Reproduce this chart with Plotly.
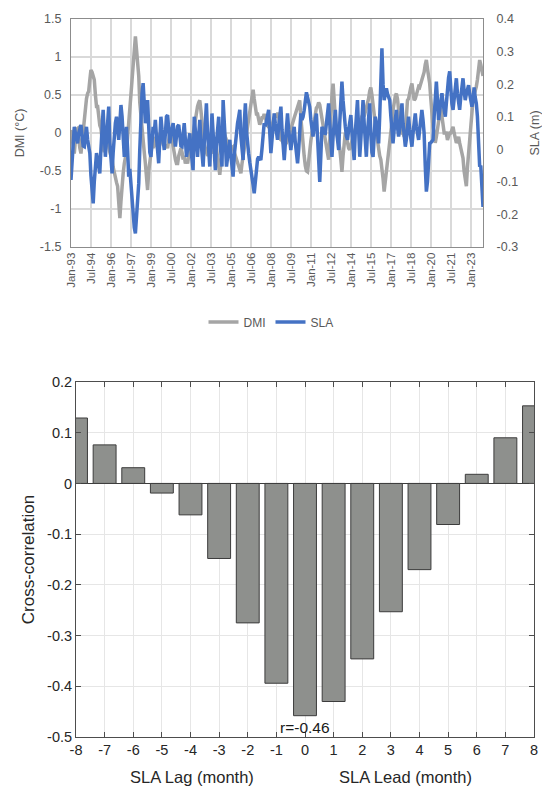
import plotly.graph_objects as go
import pandas as pd

# ---------------- data ----------------
months = pd.date_range("1993-01-01", periods=372, freq="MS")

dmi = [
    0.04, -0.1, -0.2, -0.27, -0.1, 0.05, 0.06, -0.1, -0.2, -0.27, -0.1, 0.05,          # 1993
    0.21, 0.3, 0.45, 0.52, 0.55, 0.7, 0.83, 0.8, 0.72, 0.7, 0.5, 0.35,                 # 1994
    0.35, 0.2, 0.1, 0.06, -0.1, -0.2, -0.25, -0.15, -0.05, -0.1, -0.2, -0.25,          # 1995
    -0.3, -0.35, -0.45, -0.53, -0.6, -0.65, -0.7, -0.9, -1.12, -0.9, -0.6, -0.53,      # 1996
    -0.4, -0.3, -0.25, -0.05, 0.1, 0.29, 0.5, 0.7, 0.87, 1.0, 1.27, 1.1,               # 1997
    0.9, 0.75, 0.4, 0.2, 0.06, -0.1, -0.25, -0.4, -0.6, -0.75, -0.5, -0.35,            # 1998
    -0.25, -0.15, -0.2, -0.1, -0.05, -0.15, -0.2, -0.1, 0.0, -0.05, -0.1, -0.15,       # 1999
    -0.15, -0.2, -0.15, -0.2, -0.1, 0.0, 0.0, -0.1, -0.2, -0.3, -0.35, -0.4,           # 2000
    -0.4, -0.3, -0.25, -0.2, -0.25, -0.35, -0.3, -0.4, -0.35, -0.4, -0.3, -0.25,       # 2001
    -0.2, -0.1, 0.0, 0.1, 0.21, 0.3, 0.35, 0.4, 0.43, 0.3, 0.1, -0.09,                 # 2002
    -0.15, -0.2, -0.25, -0.3, -0.28, -0.22, -0.27, -0.2, -0.27, -0.15, -0.09, -0.2,    # 2003
    -0.35, -0.45, -0.55, -0.4, -0.25, -0.1, 0.0, -0.05, -0.1, -0.15, -0.2, -0.22,      # 2004
    -0.2, -0.18, -0.18, -0.25, -0.3, -0.35, -0.4, -0.45, -0.5, -0.53, -0.4, -0.3,      # 2005
    -0.2, -0.14, -0.05, 0.05, 0.15, 0.29, 0.4, 0.5, 0.57, 0.45, 0.35, 0.25,            # 2006
    0.25, 0.15, 0.11, 0.15, 0.2, 0.2, 0.25, 0.2, 0.15, 0.1, 0.07, 0.1,                 # 2007
    0.07, 0.1, 0.15, 0.2, 0.25, 0.2, 0.25, 0.25, 0.1, -0.09, -0.1, -0.13,              # 2008
    -0.13, -0.15, -0.13, -0.1, -0.05, 0.0, 0.04, 0.1, 0.15, 0.2, 0.25, 0.3,            # 2009
    0.35, 0.4, 0.43, 0.2, 0.0, -0.15, -0.3, -0.43, -0.5, -0.51, -0.35, -0.2,           # 2010
    -0.1, 0.0, 0.0, 0.15, 0.25, 0.33, 0.35, 0.4, 0.37, 0.3, 0.2, 0.1,                  # 2011
    0.0, -0.1, -0.2, -0.3, -0.35, -0.1, 0.3, 0.5, 0.65, 0.4, 0.1, 0.0,                 # 2012
    -0.05, -0.13, -0.2, -0.35, -0.51, -0.3, -0.1, 0.0, -0.05, -0.15, -0.2, -0.22,      # 2013
    -0.15, -0.09, -0.05, 0.0, 0.05, 0.09, 0.1, 0.12, 0.15, 0.18, 0.21, 0.25,           # 2014
    0.22, 0.28, 0.3, 0.35, 0.45, 0.55, 0.6, 0.5, 0.35, 0.21, 0.1, 0.0,                 # 2015
    -0.1, -0.22, -0.3, -0.35, -0.44, -0.6, -0.77, -0.65, -0.5, -0.35, -0.2, -0.1,      # 2016
    0.0, 0.15, 0.3, 0.43, 0.48, 0.52, 0.45, 0.3, 0.2, 0.1, 0.0, 0.0,                   # 2017
    -0.05, 0.0, 0.2, 0.43, 0.45, 0.55, 0.6, 0.65, 0.55, 0.43, 0.45, 0.5,               # 2018
    0.55, 0.61, 0.6, 0.65, 0.7, 0.74, 0.8, 0.9, 0.96, 0.85, 0.75, 0.65,                # 2019
    0.45, 0.2, 0.08, 0.0, -0.13, -0.05, 0.08, 0.15, 0.25, 0.33, 0.2, 0.05,             # 2020
    0.0, 0.0, 0.0, -0.09, -0.05, 0.0, 0.0, 0.05, 0.08, 0.0, -0.05, -0.13,              # 2021
    -0.1, -0.05, -0.13, -0.2, -0.3, -0.33, -0.5, -0.6, -0.7, -0.45, -0.25, -0.13,      # 2022
    0.05, 0.2, 0.43, 0.5, 0.55, 0.61, 0.7, 0.8, 0.96, 0.9, 0.79, 0.75,                 # 2023
]

sla = [
    -0.094, -0.03, 0.03, 0.069, 0.05, 0.03, 0.018, 0.05, 0.07, 0.075, 0.04, 0.01,      # 1993
    0.008, 0.04, 0.069, 0.03, 0.0, -0.012, -0.08, -0.14, -0.166, -0.1, -0.04, -0.012,  # 1994
    -0.03, -0.06, -0.074, 0.0, 0.07, 0.121, 0.05, -0.023, 0.03, 0.09, 0.131, 0.02,     # 1995
    -0.05, -0.074, -0.01, 0.049, 0.08, 0.1, 0.06, 0.029, 0.08, 0.136, 0.1, 0.02,       # 1996
    -0.023, 0.03, 0.069, 0.0, -0.084, -0.06, -0.115, -0.16, -0.2, -0.24, -0.258, -0.2, # 1997
    -0.15, -0.104, 0.0, 0.1, 0.17, 0.203, 0.14, 0.08, 0.12, 0.151, 0.07, -0.01,        # 1998
    -0.023, 0.03, 0.069, 0.05, 0.09, 0.04, -0.02, -0.043, 0.03, 0.1, 0.06, 0.02,       # 1999
    -0.002, 0.05, 0.1, 0.105, 0.05, 0.018, 0.05, 0.07, 0.08, 0.04, 0.008, 0.04,        # 2000
    0.07, 0.075, 0.04, 0.01, 0.008, 0.05, 0.08, 0.03, -0.023, 0.0, 0.03, 0.049,        # 2001
    0.0, -0.04, -0.064, 0.1, 0.05, 0.0, -0.023, 0.04, 0.09, 0.03, -0.02, -0.053,       # 2002
    0.02, 0.1, 0.141, 0.05, -0.02, -0.053, 0.03, 0.11, 0.05, -0.03, -0.064, 0.02,      # 2003
    0.07, 0.1, 0.03, -0.02, -0.053, 0.151, 0.1, 0.02, -0.053, -0.02, 0.01, 0.029,      # 2004
    -0.02, -0.06, -0.084, -0.02, 0.02, 0.049, 0.08, 0.1, 0.121, 0.04, -0.01, -0.033,   # 2005
    0.08, 0.141, 0.06, 0.0, -0.012, -0.04, -0.06, -0.074, -0.11, -0.135, -0.1, -0.06,  # 2006
    -0.03, -0.023, -0.03, -0.033, 0.0, 0.03, 0.08, 0.07, 0.09, 0.11, 0.121, 0.05,      # 2007
    -0.012, 0.03, 0.08, 0.11, 0.08, 0.04, 0.029, 0.07, 0.1, 0.131, 0.06, 0.0,          # 2008
    -0.033, 0.02, 0.07, 0.11, 0.06, 0.02, -0.002, 0.03, 0.05, 0.069, 0.02, -0.02,      # 2009
    -0.043, 0.0, 0.06, 0.11, 0.09, 0.1, 0.12, 0.15, 0.175, 0.16, 0.14, 0.13,           # 2010
    0.09, 0.06, 0.039, 0.07, 0.09, 0.11, 0.04, -0.05, -0.1, -0.02, 0.069, 0.06,        # 2011
    0.05, 0.049, 0.08, 0.12, 0.141, 0.08, 0.02, -0.023, 0.04, 0.1, 0.121, 0.06,        # 2012
    0.02, -0.002, 0.08, 0.15, 0.208, 0.15, 0.1, 0.07, 0.04, 0.029, 0.06, 0.09,         # 2013
    0.105, 0.05, 0.0, -0.033, 0.05, 0.12, 0.151, 0.06, -0.023, 0.03, 0.1, 0.151,       # 2014
    0.08, 0.0, -0.023, 0.05, 0.12, 0.141, 0.05, -0.01, -0.023, 0.04, 0.1, 0.08,        # 2015
    0.04, 0.018, 0.1, 0.2, 0.31, 0.2, 0.151, 0.17, 0.187, 0.17, 0.16, 0.151,           # 2016
    0.1, 0.05, 0.018, 0.06, 0.1, 0.121, 0.07, 0.039, 0.06, 0.1, 0.141, 0.08,           # 2017
    0.04, 0.008, 0.03, 0.07, 0.1, 0.06, 0.02, 0.008, 0.05, 0.09, 0.11, 0.07,           # 2018
    0.04, 0.029, 0.06, 0.1, 0.121, 0.09, 0.05, -0.05, -0.13, -0.1, -0.02, 0.018,       # 2019
    0.02, 0.025, 0.029, 0.1, 0.18, 0.208, 0.15, 0.09, 0.12, 0.15, 0.172, 0.14,         # 2020
    0.12, 0.1, 0.14, 0.19, 0.22, 0.239, 0.18, 0.14, 0.121, 0.16, 0.2, 0.218,           # 2021
    0.17, 0.13, 0.121, 0.16, 0.2, 0.218, 0.18, 0.151, 0.17, 0.19, 0.197, 0.17,         # 2022
    0.15, 0.131, 0.15, 0.19, 0.16, 0.141, 0.1, 0.03, -0.053, -0.05, -0.14, -0.177,     # 2023
]

date_ticks = pd.date_range("1993-01-01", "2023-01-01", freq="18MS")
dmi_ticks = [-1.5, -1, -0.5, 0, 0.5, 1, 1.5]
sla_ticks = [-0.3, -0.2, -0.1, 0, 0.1, 0.2, 0.3, 0.4]

lags = list(range(-8, 9))
xcorr = [0.129, 0.076, 0.031, -0.019, -0.062, -0.148, -0.275, -0.394, -0.458,
         -0.430, -0.346, -0.253, -0.170, -0.081, 0.018, 0.090, 0.153]
corr_ticks = [-0.5, -0.4, -0.3, -0.2, -0.1, 0, 0.1, 0.2]
r_label = "r=-0.46"
r_pos = (0, -0.482)


def fmt(v):
    return f"{v:g}"


# ---------------- geometry helpers ----------------
W, H = 542, 791


def dx(a, b):
    return [a / W, b / W]


def dy(top, bottom):
    return [1 - bottom / H, 1 - top / H]


GREY_TXT = "#595959"
DARK_TXT = "#262626"
FONT = "Liberation Sans, Arial, sans-serif"

fig = go.Figure()
fig.add_trace(go.Scatter(x=months, y=dmi, name="DMI", mode="lines",
                         line=dict(color="#A5A5A5", width=3.5),
                         xaxis="x", yaxis="y"))
fig.add_trace(go.Scatter(x=months, y=sla, name="SLA", mode="lines",
                         line=dict(color="#4472C4", width=3.5),
                         xaxis="x", yaxis="y2"))
fig.add_trace(go.Bar(x=lags, y=xcorr, width=0.8, showlegend=False,
                     marker=dict(color="#8E908D", line=dict(color="#3C3C3C", width=1)),
                     xaxis="x3", yaxis="y3"))

fig.update_layout(
    width=W, height=H,
    margin=dict(l=0, r=0, t=0, b=0),
    paper_bgcolor="white", plot_bgcolor="white",
    font=dict(family=FONT, color=GREY_TXT, size=12),
    showlegend=True,
    legend=dict(orientation="h", x=0.5, xanchor="center",
                y=1 - 322 / H, yanchor="middle",
                font=dict(size=12, color=GREY_TXT), bgcolor="rgba(0,0,0,0)",
                itemwidth=30, tracegroupgap=0),
    xaxis=dict(domain=dx(71, 483), anchor="y", type="date",
               range=["1993-01-01", "2023-12-01"],
               tickvals=list(date_ticks),
               ticktext=[d.strftime("%b-%y") for d in date_ticks],
               tickangle=-90, tickfont=dict(size=11.5, color=GREY_TXT),
               showgrid=True, gridcolor="#D9D9D9", gridwidth=1.5,
               showline=True, linecolor="#8C8C8C", linewidth=1.2, mirror=True,
               ticks="", zeroline=False, automargin=False),
    yaxis=dict(domain=dy(19, 247), anchor="x", range=[-1.5, 1.5],
               tickvals=dmi_ticks, ticktext=[fmt(v) for v in dmi_ticks],
               tickfont=dict(size=12.5, color=GREY_TXT),
               showgrid=True, gridcolor="#D9D9D9", gridwidth=1.5,
               showline=True, linecolor="#8C8C8C", linewidth=1.2,
               zeroline=False, ticks="", ticklabelstandoff=6,
               title=dict(text="DMI (°C)", font=dict(size=12.5, color=GREY_TXT), standoff=12),
               automargin=False),
    yaxis2=dict(overlaying="y", anchor="x", side="right", range=[-0.3, 0.4],
                tickvals=sla_ticks, ticktext=[fmt(v) for v in sla_ticks],
                tickfont=dict(size=12.5, color=GREY_TXT),
                showgrid=False, zeroline=False, ticks="", ticklabelstandoff=10,
                showline=True, linecolor="#8C8C8C", linewidth=1.2,
                title=dict(text="SLA (m)", font=dict(size=12.5, color=GREY_TXT), standoff=16),
                automargin=False),
    xaxis3=dict(domain=dx(76, 534), anchor="y3", range=[-8, 8],
                tickvals=lags, ticktext=[fmt(v) for v in lags],
                tickfont=dict(size=14.5, color=DARK_TXT),
                showgrid=True, gridcolor="#E6E6E6", gridwidth=1,
                showline=True, linecolor="#4D4D4D", linewidth=1, mirror="ticks",
                ticks="inside", ticklen=5, tickcolor="#4D4D4D",
                zeroline=False, automargin=False),
    yaxis3=dict(domain=dy(382, 737), anchor="x3", range=[-0.5, 0.2],
                tickvals=corr_ticks, ticktext=[fmt(v) for v in corr_ticks],
                tickfont=dict(size=14.5, color=DARK_TXT),
                showgrid=True, gridcolor="#E6E6E6", gridwidth=1,
                showline=True, linecolor="#4D4D4D", linewidth=1, mirror="ticks",
                ticks="inside", ticklen=5, tickcolor="#4D4D4D",
                zeroline=True, zerolinecolor="#3C3C3C", zerolinewidth=1,
                title=dict(text="Cross-correlation", font=dict(size=17, color=DARK_TXT), standoff=8),
                automargin=False),
    annotations=[
        dict(text=r_label, x=r_pos[0], y=r_pos[1], xref="x3", yref="y3",
             showarrow=False, font=dict(size=15.5, color="#1A1A1A"),
             xanchor="center", yanchor="middle"),
        dict(text="SLA Lag (month)", x=192 / W, y=1 - 777 / H, xref="paper", yref="paper",
             showarrow=False, font=dict(size=16.5, color=DARK_TXT),
             xanchor="center", yanchor="middle"),
        dict(text="SLA Lead (month)", x=405 / W, y=1 - 777 / H, xref="paper", yref="paper",
             showarrow=False, font=dict(size=16.5, color=DARK_TXT),
             xanchor="center", yanchor="middle"),
    ],
)

fig.write_html("out.html", config={"displayModeBar": False},
               post_script="document.body.style.margin='0px';document.body.style.overflow='hidden';")
